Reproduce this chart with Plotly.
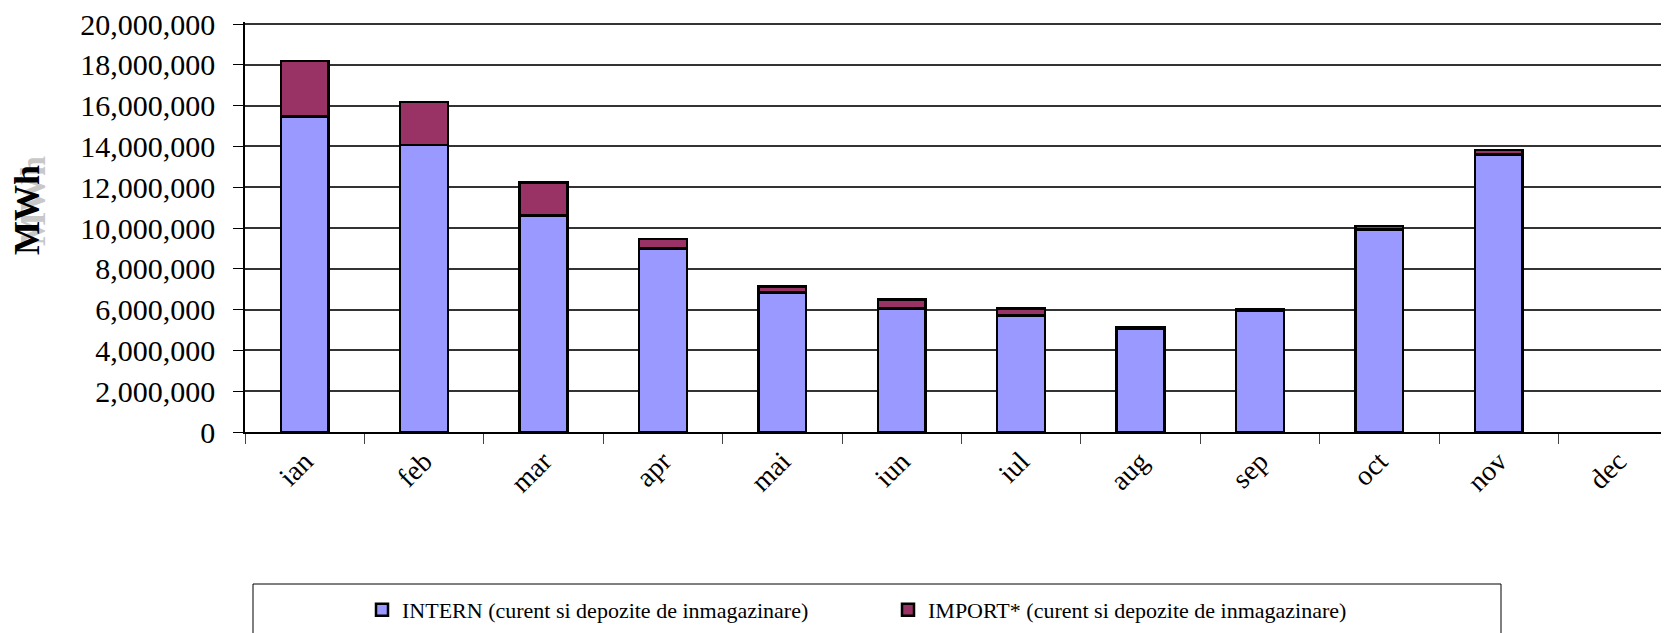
import plotly.graph_objects as go

months = ['ian', 'feb', 'mar', 'apr', 'mai', 'iun', 'iul', 'aug', 'sep', 'oct', 'nov', 'dec']
intern = [15460000, 14080000, 10620000, 9000000, 6850000, 6050000, 5700000, 5080000, 5930000, 9930000, 13600000, None]
import_ = [2730000, 2100000, 1620000, 460000, 290000, 450000, 350000, 80000, 100000, 170000, 220000, None]
y_max = 20000000

serif = 'Liberation Serif, Times New Roman, serif'
edge = dict(color='black', width=2.5)

# page body has an 8px margin, so the figure is drawn 8px in from the corner.
# a little headroom above 20M so plotly keeps the top gridline and label
L, T, PW, PH = 237, 14, 1424, 410

def px(x):
    return (x - L) / PW

def py(y):
    return (T + PH - y) / PH

fig = go.Figure()
fig.add_trace(go.Bar(x=months, y=intern, name='INTERN (curent si depozite de inmagazinare)',
                     marker=dict(color='#9999FF', line=edge), width=0.4))
fig.add_trace(go.Bar(x=months, y=import_, name='IMPORT* (curent si depozite de inmagazinare)',
                     marker=dict(color='#993366', line=edge), width=0.4))

# axis title with its ghosted copy, as in the original export
fig.add_annotation(text='<b>MWh</b>', xref='paper', yref='paper', x=px(25), y=py(193),
                   xanchor='center', yanchor='middle', textangle=-90, showarrow=False,
                   font=dict(family=serif, size=36, color='#c8c8c8'))
fig.add_annotation(text='<b>MWh</b>', xref='paper', yref='paper', x=px(19), y=py(202),
                   xanchor='center', yanchor='middle', textangle=-90, showarrow=False,
                   font=dict(family=serif, size=36, color='black'))

# legend frame (runs off the bottom of the picture)
fig.add_shape(type='rect', xref='paper', yref='paper', x0=px(245), x1=px(1493),
              y0=-0.55, y1=py(576), line=dict(color='black', width=1), fillcolor='white', layer='below')

fig.update_layout(
    barmode='stack',
    width=1661, height=625,
    margin=dict(l=L, r=0, t=T, b=625 - T - PH),
    paper_bgcolor='white', plot_bgcolor='white',
    font=dict(family=serif, size=28, color='black'),
    legend=dict(orientation='h', x=px(354), xanchor='left', y=py(602), yanchor='middle',
                font=dict(family=serif, size=22), entrywidth=481, bgcolor='rgba(0,0,0,0)',
                traceorder='normal'),
    xaxis=dict(range=[-0.5, 11.426], tickangle=-45, tickson='boundaries', ticks='outside', ticklen=10,
               tickcolor='#444', showline=True, linecolor='black', linewidth=1.5, showgrid=False,
               tickfont=dict(family=serif, size=28), automargin=False),
    yaxis=dict(range=[0, y_max * 1.005], dtick=2000000, tickformat=',', ticks='outside', ticklen=10,
               tickcolor='black', showline=True, linecolor='black', linewidth=1.5,
               showgrid=True, gridcolor='#333', gridwidth=1.5, zeroline=False,
               ticklabelstandoff=12, ticklabeloverflow='allow', tickfont=dict(family=serif, size=30),
               automargin=False),
)

fig.write_html('out.html')
